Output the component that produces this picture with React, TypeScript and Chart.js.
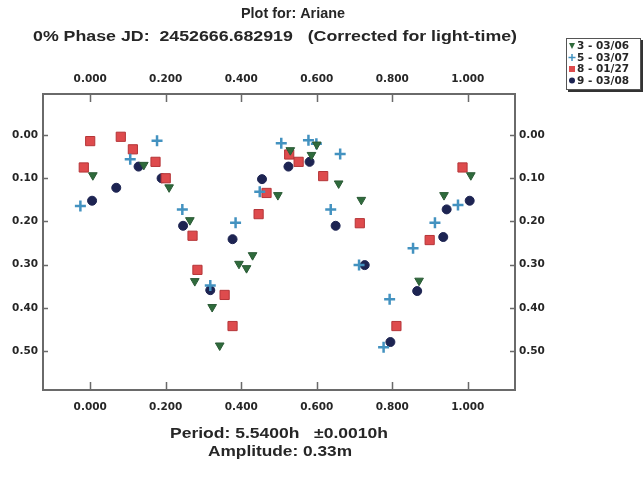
import React, { useEffect, useRef } from "react";
import { Chart, registerables } from "chart.js";

Chart.register(...registerables);

// ---- Data ----
const xTicks = [0, 0.2, 0.4, 0.6, 0.8, 1.0];
const yTicks = [0, 0.1, 0.2, 0.3, 0.4, 0.5];

const titleLine1 = "Plot for: Ariane";
const titleLine2 = "0% Phase JD:  2452666.682919   (Corrected for light-time)";
const footerLine1 = "Period: 5.5400h   \u00b10.0010h";
const footerLine2 = "Amplitude: 0.33m";

const seriesLabels = ["3 - 03/06", "5 - 03/07", "8 - 01/27", "9 - 03/08"];

// Series 3 - 03/06 (green down triangles)
const phase3 = [0.007, 0.142, 0.209, 0.264, 0.277, 0.323, 0.343, 0.394, 0.414, 0.43, 0.497, 0.53, 0.586, 0.6, 0.658, 0.718, 0.871, 0.937, 1.008];
const mag3 = [0.093, 0.069, 0.121, 0.197, 0.338, 0.398, 0.487, 0.298, 0.308, 0.278, 0.139, 0.035, 0.046, 0.022, 0.112, 0.15, 0.337, 0.139, 0.093];

// Series 5 - 03/07 (blue plus)
const phase5 = [-0.026, 0.106, 0.177, 0.244, 0.318, 0.385, 0.449, 0.506, 0.578, 0.599, 0.662, 0.637, 0.712, 0.777, 0.793, 0.855, 0.913, 0.974];
const mag5 = [0.164, 0.056, 0.013, 0.172, 0.348, 0.203, 0.131, 0.019, 0.012, 0.02, 0.044, 0.172, 0.301, 0.491, 0.38, 0.262, 0.203, 0.162];

// Series 8 - 01/27 (red squares)
const phase8 = [-0.017, 0.0, 0.081, 0.113, 0.173, 0.2, 0.271, 0.284, 0.356, 0.377, 0.446, 0.467, 0.527, 0.552, 0.617, 0.714, 0.811, 0.899, 0.986];
const mag8 = [0.075, 0.014, 0.004, 0.033, 0.062, 0.1, 0.233, 0.312, 0.37, 0.442, 0.183, 0.134, 0.045, 0.062, 0.095, 0.204, 0.442, 0.243, 0.075];

// Series 9 - 03/08 (navy circles)
const phase9 = [0.005, 0.069, 0.128, 0.189, 0.246, 0.318, 0.377, 0.455, 0.525, 0.581, 0.65, 0.727, 0.795, 0.866, 0.935, 0.944, 1.005];
const mag9 = [0.152, 0.122, 0.073, 0.1, 0.21, 0.359, 0.241, 0.102, 0.073, 0.062, 0.21, 0.301, 0.479, 0.361, 0.236, 0.172, 0.152];

const pts = (xs: number[], ys: number[]) => xs.map((x, i) => ({ x, y: ys[i] }));

const TEXT = "#262626";
const AXIS = "#6a6a6a";
const FONT = "Liberation Sans, Arial, sans-serif";
const WIDE = "DejaVu Sans, Liberation Sans, sans-serif";

function drawFit(ctx: CanvasRenderingContext2D, text: string, cx: number, cy: number, width: number) {
  const w = ctx.measureText(text).width;
  ctx.save();
  ctx.translate(cx, cy);
  ctx.scale(width / w, 1);
  ctx.fillText(text, 0, 0);
  ctx.restore();
}

const overlayPlugin = {
  id: "overlay",
  afterDraw(chart: any) {
    const ctx = chart.ctx as CanvasRenderingContext2D;
    const { left, right, top, bottom } = chart.chartArea;
    const xs = chart.scales.x;
    const ys = chart.scales.y;
    ctx.save();
    // inner tick marks
    ctx.strokeStyle = AXIS;
    ctx.lineWidth = 1.5;
    ctx.beginPath();
    xTicks.forEach((v) => {
      const px = Math.round(xs.getPixelForValue(v)) + 0.5;
      ctx.moveTo(px, top);
      ctx.lineTo(px, top + 8);
      ctx.moveTo(px, bottom);
      ctx.lineTo(px, bottom - 8);
    });
    yTicks.forEach((v) => {
      const py = Math.round(ys.getPixelForValue(v)) + 0.5;
      ctx.moveTo(left, py);
      ctx.lineTo(left + 5, py);
      ctx.moveTo(right, py);
      ctx.lineTo(right - 5, py);
    });
    ctx.stroke();

    // titles
    ctx.fillStyle = TEXT;
    ctx.textAlign = "center";
    ctx.textBaseline = "middle";
    ctx.font = `bold 14px ${FONT}`;
    drawFit(ctx, titleLine1, 293, 14, 104);
    drawFit(ctx, titleLine2, 275, 37, 484);
    drawFit(ctx, footerLine1, 279, 434, 218);
    drawFit(ctx, footerLine2, 280, 452, 144);

    // legend
    const lx = 566, ly = 38, lw = 74, lh = 51;
    ctx.fillStyle = "#ffffff";
    ctx.fillRect(lx, ly, lw, lh);
    ctx.strokeStyle = "#555555";
    ctx.lineWidth = 1;
    ctx.strokeRect(lx + 0.5, ly + 0.5, lw, lh);
    ctx.strokeStyle = "#333333";
    ctx.lineWidth = 2;
    ctx.beginPath();
    ctx.moveTo(lx + 2, ly + lh + 2);
    ctx.lineTo(lx + lw + 2, ly + lh + 2);
    ctx.lineTo(lx + lw + 2, ly + 2);
    ctx.stroke();
    chart.data.datasets.forEach((ds: any, i: number) => {
      const cy = ly + 8 + i * 11.5;
      const mx = lx + 6;
      ctx.save();
      ctx.fillStyle = ds.backgroundColor;
      ctx.strokeStyle = ds.borderColor;
      ctx.lineWidth = 1.5;
      const st = ds.pointStyle;
      ctx.beginPath();
      if (st === "triangle") {
        ctx.moveTo(mx - 3, cy - 3);
        ctx.lineTo(mx + 3, cy - 3);
        ctx.lineTo(mx, cy + 3);
        ctx.closePath();
        ctx.fill();
      } else if (st === "cross") {
        ctx.moveTo(mx - 3.5, cy);
        ctx.lineTo(mx + 3.5, cy);
        ctx.moveTo(mx, cy - 3.5);
        ctx.lineTo(mx, cy + 3.5);
        ctx.stroke();
      } else if (st === "rect") {
        ctx.fillRect(mx - 3, cy - 3, 6, 6);
      } else {
        ctx.arc(mx, cy, 3, 0, Math.PI * 2);
        ctx.fill();
      }
      ctx.restore();
      ctx.fillStyle = TEXT;
      ctx.textAlign = "left";
      ctx.textBaseline = "middle";
      ctx.font = `bold 10.5px ${WIDE}`;
      ctx.fillText(ds.label, lx + 11, cy + 0.5);
    });
    ctx.restore();
  },
};

export default function App() {
  const ref = useRef<HTMLCanvasElement | null>(null);
  useEffect(() => {
    if (!ref.current) return;
    const tickFont = { family: WIDE, size: 10.5, weight: "bold" as const };
    const common = {
      grid: { drawOnChartArea: false, drawTicks: false },
      border: { display: true, color: AXIS, width: 2 },
    };
    const chart = new Chart(ref.current, {
      type: "scatter",
      data: {
        datasets: [
          {
            label: seriesLabels[0],
            data: pts(phase3, mag3),
            pointStyle: "triangle",
            rotation: 180,
            radius: 5,
            backgroundColor: "#2f6b3c",
            borderColor: "#2a5a35",
            borderWidth: 1,
          },
          {
            label: seriesLabels[1],
            data: pts(phase5, mag5),
            pointStyle: "cross",
            radius: 5.5,
            backgroundColor: "#4392c0",
            borderColor: "#4392c0",
            borderWidth: 2.5,
          },
          {
            label: seriesLabels[2],
            data: pts(phase8, mag8),
            pointStyle: "rect",
            radius: 6.5,
            backgroundColor: "#de4b4d",
            borderColor: "#b53538",
            borderWidth: 1,
          },
          {
            label: seriesLabels[3],
            data: pts(phase9, mag9),
            pointStyle: "circle",
            radius: 4.5,
            backgroundColor: "#1d2452",
            borderColor: "#1d2452",
            borderWidth: 1,
          },
        ] as any,
      },
      options: {
        animation: false,
        responsive: false,
        maintainAspectRatio: false,
        layout: { padding: 0 },
        plugins: {
          legend: { display: false },
          title: { display: false },
          tooltip: { enabled: false },
        },
        scales: {
          x: {
            type: "linear",
            position: "bottom",
            min: -0.125,
            max: 1.125,
            afterBuildTicks: (s: any) => {
              s.ticks = xTicks.map((v) => ({ value: v }));
            },
            afterFit: (s: any) => {
              s.height = 88;
            },
            ticks: {
              callback: (v: any) => Number(v).toFixed(3),
              font: tickFont,
              color: TEXT,
              padding: 11,
              maxRotation: 0,
              autoSkip: false,
            },
            ...common,
          },
          x2: {
            type: "linear",
            position: "top",
            min: -0.125,
            max: 1.125,
            afterBuildTicks: (s: any) => {
              s.ticks = xTicks.map((v) => ({ value: v }));
            },
            afterFit: (s: any) => {
              s.height = 94;
            },
            ticks: {
              callback: (v: any) => Number(v).toFixed(3),
              font: tickFont,
              color: TEXT,
              padding: 8,
              maxRotation: 0,
              autoSkip: false,
            },
            ...common,
          },
          y: {
            type: "linear",
            position: "left",
            reverse: true,
            min: -0.095,
            max: 0.59,
            afterBuildTicks: (s: any) => {
              s.ticks = yTicks.map((v) => ({ value: v }));
            },
            afterFit: (s: any) => {
              s.width = 43;
            },
            ticks: {
              callback: (v: any) => Number(v).toFixed(2),
              font: tickFont,
              color: TEXT,
              padding: 5,
              autoSkip: false,
            },
            ...common,
          },
          y2: {
            type: "linear",
            position: "right",
            reverse: true,
            min: -0.095,
            max: 0.59,
            afterBuildTicks: (s: any) => {
              s.ticks = yTicks.map((v) => ({ value: v }));
            },
            afterFit: (s: any) => {
              s.width = 129;
            },
            ticks: {
              callback: (v: any) => Number(v).toFixed(2),
              font: tickFont,
              color: TEXT,
              padding: 4,
              autoSkip: false,
            },
            ...common,
          },
        },
      } as any,
      plugins: [overlayPlugin],
    });
    return () => chart.destroy();
  }, []);
  return (
    <div style={{ position: "fixed", left: 0, top: 0, width: 644, height: 478, background: "#fff" }}>
      <canvas ref={ref} width={644} height={478} style={{ display: "block", width: 644, height: 478 }} />
    </div>
  );
}
